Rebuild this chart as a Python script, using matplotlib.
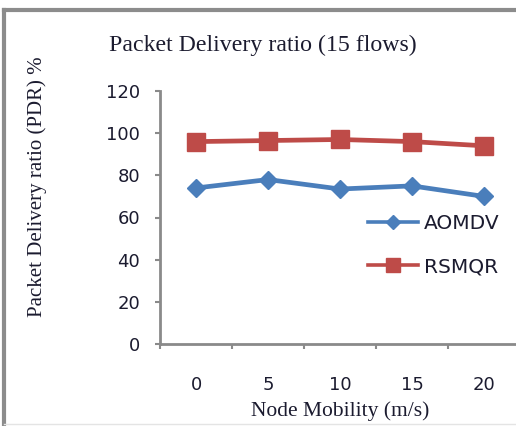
import matplotlib
matplotlib.use("Agg")
import matplotlib.pyplot as plt
from matplotlib.lines import Line2D

# Data
mobility = ["0", "5", "10", "15", "20"]
aomdv = [74, 78, 73.5, 75, 70]
rsmqr = [96, 96.5, 97, 96, 94]
y_ticks = [0, 20, 40, 60, 80, 100, 120]

W, H = 516, 426
DPI = 100
fig = plt.figure(figsize=(W / DPI, H / DPI), dpi=DPI)

def px(x, y):
    return x / W, 1 - y / H

# plot area in pixel coordinates
left, right, top, bottom = 160, 520, 91, 344
ax = fig.add_axes([left / W, 1 - bottom / H, (right - left) / W, (bottom - top) / H])
ax.patch.set_alpha(0)

blue = "#4A7EBB"
red = "#BE4B48"
text_col = "#1b1b2f"
axis_col = "#8a8a8a"

x = list(range(len(mobility)))
ax.plot(x, aomdv, color=blue, lw=3.4, marker="D", ms=9.5, label="AOMDV",
        solid_joinstyle="round")
ax.plot(x, rsmqr, color=red, lw=3.4, marker="s", ms=12.5, label="RSMQR",
        solid_joinstyle="round")

ax.set_xlim(-0.5, len(mobility) - 0.5)
ax.set_ylim(0, 120)
ax.set_yticks(y_ticks)
ax.set_yticklabels([str(v) for v in y_ticks])

# category axis: tick marks at boundaries, labels at centres
ax.set_xticks([i - 0.5 for i in range(len(mobility) + 1)])
ax.set_xticklabels([])
ax.set_xticks(x, minor=True)
ax.set_xticklabels(mobility, minor=True)
ax.tick_params(axis="x", which="minor", length=0, pad=23)
ax.tick_params(axis="x", which="major", length=3.8, width=1.5, color=axis_col, direction="out")
ax.tick_params(axis="y", length=3.8, width=1.5, color=axis_col, direction="out", pad=10.5)

sans = ["DejaVu Sans"]
for lab in ax.get_yticklabels() + ax.get_xticklabels(minor=True):
    lab.set_fontfamily(sans)
    lab.set_fontsize(13)
    lab.set_color(text_col)

for s in ["top", "right"]:
    ax.spines[s].set_visible(False)
for s in ["left", "bottom"]:
    ax.spines[s].set_color(axis_col)
    ax.spines[s].set_linewidth(2.0)

serif = ["Liberation Serif", "DejaVu Serif"]
fig.text(*px(263, 45), "Packet Delivery ratio (15 flows)", family=serif, size=17.2,
         color=text_col, ha="center", va="center")
fig.text(*px(340, 411), "Node Mobility (m/s)", family=serif, size=15.5,
         color=text_col, ha="center", va="center")
fig.text(*px(37, 187), "Packet Delivery ratio (PDR) %", family=serif, size=15,
         color=text_col, ha="center", va="center", rotation=90)

handles = [
    Line2D([], [], color=blue, lw=2.6, marker="D", ms=6.8),
    Line2D([], [], color=red, lw=2.6, marker="s", ms=10),
]
leg = ax.legend(handles, ["AOMDV", "RSMQR"], loc="upper left",
                bbox_to_anchor=((350 - left) / (right - left), (bottom - 196) / (bottom - top)),
                frameon=False, handlelength=2.5, handletextpad=0.25, labelspacing=1.2,
                prop={"family": sans, "size": 14.5})
for t in leg.get_texts():
    t.set_color(text_col)

# chart border
fig.add_artist(Line2D([4 / W, 4 / W], [1 - 424 / H, 1 - 10 / H], transform=fig.transFigure,
                      color="#8c8c8c", lw=3))
fig.add_artist(Line2D([4 / W, 1.0], [1 - 10 / H, 1 - 10 / H], transform=fig.transFigure,
                      color="#8c8c8c", lw=3))
fig.add_artist(Line2D([4 / W, 1.0], [1 - 424 / H, 1 - 424 / H], transform=fig.transFigure,
                      color="#e4e4e4", lw=1))

fig.savefig("out.png", dpi=DPI)
